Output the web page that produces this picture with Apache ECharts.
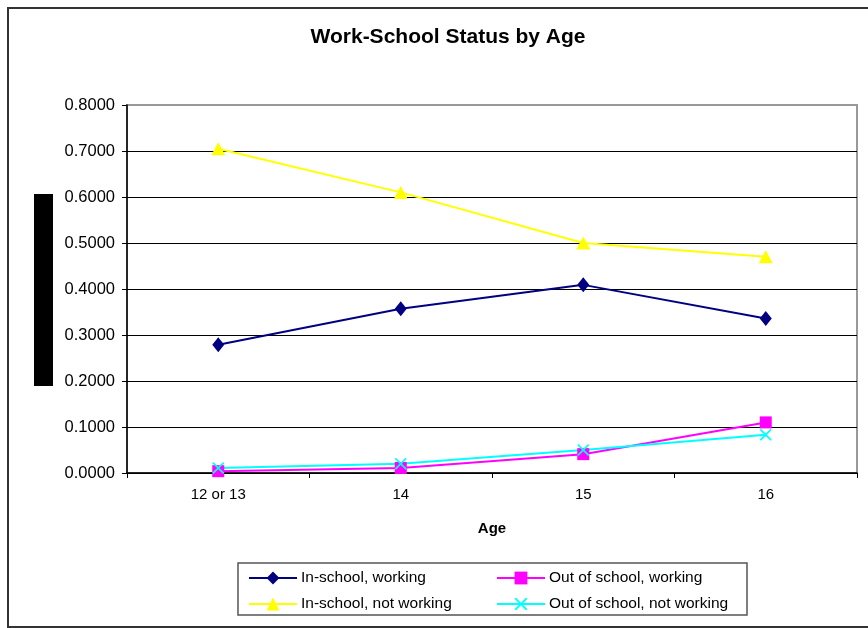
<!DOCTYPE html>
<html>
<head>
<meta charset="utf-8">
<script src="https://cdn.jsdelivr.net/npm/echarts@6/dist/echarts.min.js"></script>
<style>
  html, body { margin: 0; padding: 0; background: #fff; }
  #chart { width: 868px; height: 628px; }
</style>
</head>
<body>
<div id="chart"></div>
<script>
// data
const ages = ["12 or 13", "14", "15", "16"];
const inSchoolWorking = [0.279, 0.357, 0.409, 0.336];
const outSchoolWorking = [0.004, 0.011, 0.041, 0.110];
const inSchoolNotWorking = [0.705, 0.610, 0.500, 0.470];
const outSchoolNotWorking = [0.011, 0.020, 0.050, 0.083];
const seriesNames = ["In-school, working", "Out of school, working", "In-school, not working", "Out of school, not working"];

const font = "Liberation Sans, Arial, sans-serif";
const xMark = "path://M0,1 L1,0 L5,4 L9,0 L10,1 L6,5 L10,9 L9,10 L5,6 L1,10 L0,9 L4,5 Z";

function makeLine(name, data, color, symbol, size) {
  return {
    name: name,
    type: "line",
    data: data,
    symbol: symbol,
    symbolSize: size,
    showAllSymbol: true,
    lineStyle: { color: color, width: 2 },
    itemStyle: { color: color },
    emphasis: { disabled: true },
    animation: false
  };
}

function legendCol(left, names) {
  return {
    orient: "vertical",
    left: left,
    top: 570,
    padding: 0,
    itemGap: 10,
    itemWidth: 48,
    itemHeight: 16,
    data: names,
    textStyle: { fontFamily: font, fontSize: 15.5, color: "#000", lineHeight: 16, padding: [0, 0, 0, -1] }
  };
}

const chart = echarts.init(document.getElementById("chart"));
chart.setOption({
  backgroundColor: "#fff",
  animation: false,
  title: {
    text: "Work-School Status by Age",
    left: 443,
    textAlign: "center",
    top: 22,
    textStyle: { fontFamily: font, fontSize: 21, fontWeight: "bold", color: "#000" }
  },
  legend: [
    legendCol(248, [seriesNames[0], seriesNames[2]]),
    legendCol(496, [seriesNames[1], seriesNames[3]])
  ],
  grid: {
    left: 127,
    top: 105,
    width: 730,
    height: 368,
    show: true,
    borderColor: "#999",
    borderWidth: 2,
    backgroundColor: "#fff"
  },
  xAxis: {
    type: "category",
    data: ages,
    boundaryGap: true,
    name: "Age",
    nameLocation: "middle",
    nameGap: 48,
    nameTextStyle: { fontFamily: font, fontSize: 15, fontWeight: "bold", color: "#000" },
    axisLine: { lineStyle: { color: "#000", width: 1.5 } },
    axisTick: { show: true, length: 5, lineStyle: { color: "#000" } },
    axisLabel: { fontFamily: font, fontSize: 15, color: "#000", margin: 14 },
    splitLine: { show: false }
  },
  yAxis: {
    type: "value",
    min: 0,
    max: 0.8,
    interval: 0.1,
    axisLine: { show: true, lineStyle: { color: "#000", width: 1.5 } },
    axisTick: { show: true, length: 5, lineStyle: { color: "#000" } },
    axisLabel: {
      fontFamily: font,
      fontSize: 16.5,
      color: "#000",
      margin: 12,
      formatter: function (v) { return v.toFixed(4); }
    },
    splitLine: {
      show: true,
      lineStyle: { color: ["#000", "#000", "#000", "#000", "#000", "#000", "#000", "#000", "#999"], width: 1.2 }
    }
  },
  series: [
    makeLine(seriesNames[0], inSchoolWorking, "#000080", "diamond", [12, 15]),
    makeLine(seriesNames[1], outSchoolWorking, "#FF00FF", "rect", 12),
    makeLine(seriesNames[2], inSchoolNotWorking, "#FFFF00", "triangle", [14, 13]),
    makeLine(seriesNames[3], outSchoolNotWorking, "#00FFFF", xMark, 12)
  ],
  graphic: [
    {
      type: "rect",
      shape: { x: 8, y: 8, width: 880, height: 619 },
      style: { fill: null, stroke: "#333", lineWidth: 2 },
      silent: true
    },
    {
      type: "rect",
      shape: { x: 238, y: 563, width: 509, height: 52 },
      style: { fill: null, stroke: "#555", lineWidth: 1.5 },
      silent: true
    },
    {
      type: "rect",
      shape: { x: 34, y: 194, width: 19, height: 192 },
      style: { fill: "#000" },
      silent: true
    }
  ]
});
</script>
</body>
</html>
